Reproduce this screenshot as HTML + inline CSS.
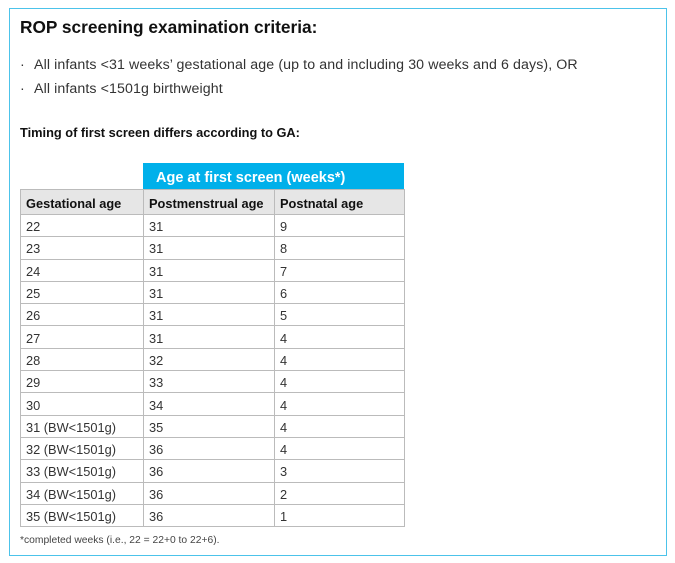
<!DOCTYPE html>
<html><head><style>
body{margin:0;width:675px;height:563px;background:#fff;font-family:"Liberation Sans",sans-serif;color:#222;position:relative;overflow:hidden}
.frame{position:absolute;left:9px;top:8px;width:656px;height:546px;border:1px solid #4cc3ea}
.t{position:absolute;left:20px;top:17px;font-size:17.3px;font-weight:bold;color:#111}
.b{position:absolute;left:20px;font-size:14.2px;color:#333;letter-spacing:0.1px}
.b span{position:absolute;left:14px;white-space:nowrap}
.sub{position:absolute;left:20px;top:125px;font-size:12.8px;font-weight:bold;color:#111}
.blue{position:absolute;left:143px;top:163px;width:261px;height:26px;background:#00b0ea;color:#fff;font-weight:bold;font-size:14.5px;line-height:30px;box-sizing:border-box;padding-left:13px}
table{position:absolute;left:20px;top:189px;border-collapse:collapse;font-size:12.8px;color:#333}
td{border:1px solid #bbb;height:22.3px;padding:2px 0 0 5px;box-sizing:border-box}
tr.h td{background:#e6e6e6;font-weight:bold;color:#111;height:25px}
.fn{position:absolute;left:20px;top:535px;font-size:10.3px;color:#444}
</style></head><body>
<div class="frame"></div>
<div class="t">ROP screening examination criteria:</div>
<div class="b" style="top:57px">·<span>All infants &lt;31 weeks’ gestational age (up to and including 30 weeks and 6 days), OR</span></div>
<div class="b" style="top:81px">·<span>All infants &lt;1501g birthweight</span></div>
<div class="sub">Timing of first screen differs according to GA:</div>
<div class="blue">Age at first screen (weeks*)</div>
<table>
<colgroup><col style="width:123px"><col style="width:131px"><col style="width:130px"></colgroup>
<tr class="h"><td>Gestational age</td><td>Postmenstrual age</td><td>Postnatal age</td></tr>
<tr><td>22</td><td>31</td><td>9</td></tr>
<tr><td>23</td><td>31</td><td>8</td></tr>
<tr><td>24</td><td>31</td><td>7</td></tr>
<tr><td>25</td><td>31</td><td>6</td></tr>
<tr><td>26</td><td>31</td><td>5</td></tr>
<tr><td>27</td><td>31</td><td>4</td></tr>
<tr><td>28</td><td>32</td><td>4</td></tr>
<tr><td>29</td><td>33</td><td>4</td></tr>
<tr><td>30</td><td>34</td><td>4</td></tr>
<tr><td>31 (BW&lt;1501g)</td><td>35</td><td>4</td></tr>
<tr><td>32 (BW&lt;1501g)</td><td>36</td><td>4</td></tr>
<tr><td>33 (BW&lt;1501g)</td><td>36</td><td>3</td></tr>
<tr><td>34 (BW&lt;1501g)</td><td>36</td><td>2</td></tr>
<tr><td>35 (BW&lt;1501g)</td><td>36</td><td>1</td></tr>
</table>
<div class="fn">*completed weeks (i.e., 22 = 22+0 to 22+6).</div>
</body></html>
